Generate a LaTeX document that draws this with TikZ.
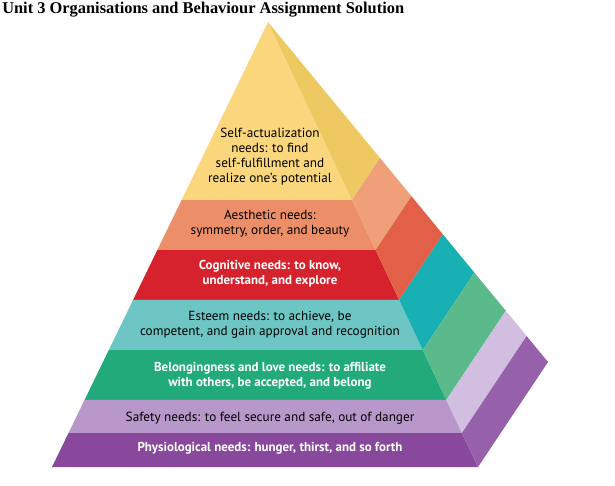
\documentclass[tikz,border=0pt]{standalone}
\usepackage{fontspec}
\setmainfont{PT Sans}
\newfontfamily\titlefont{Liberation Serif}
\usetikzlibrary{calc}

\definecolor{selfF}{RGB}{250,214,124}
\definecolor{selfS}{RGB}{238,200,96}
\definecolor{aesF}{RGB}{236,142,104}
\definecolor{aesS}{RGB}{240,160,120}
\definecolor{cogF}{RGB}{214,34,44}
\definecolor{cogS}{RGB}{226,96,72}
\definecolor{estF}{RGB}{110,198,196}
\definecolor{estS}{RGB}{24,176,178}
\definecolor{belF}{RGB}{34,170,122}
\definecolor{belS}{RGB}{90,186,140}
\definecolor{safF}{RGB}{184,152,202}
\definecolor{safS}{RGB}{210,190,224}
\definecolor{phyF}{RGB}{136,72,156}
\definecolor{phyS}{RGB}{150,96,170}

\tikzset{
  lbl/.style={inner sep=0.75pt, align=center, font=\fontsize{9.9}{11.3}\selectfont},
  lblw/.style={lbl, text=white, font=\bfseries\fontsize{9.7}{11.3}\selectfont}
}

\begin{document}
\begin{tikzpicture}[x=0.75pt,y=0.75pt,yscale=-1,xscale=1]
\useasboundingbox (0,0) rectangle (615,486);

% corners of the pyramid
\coordinate (apex) at (268,22);
\coordinate (bl) at (52,467);
\coordinate (br) at (478,467);
\coordinate (bc) at (548,362);

% bands: front face and side face
\foreach \ta/\tb/\cf/\cs in {0/0.4/selfF/selfS, 0.4/0.5124/aesF/aesS, 0.5124/0.6247/cogF/cogS, 0.6247/0.7371/estF/estS, 0.7371/0.8494/belF/belS, 0.8494/0.9236/safF/safS, 0.9236/1/phyF/phyS}{
  \fill[\cf] ($(apex)!\ta!(bl)$) -- ($(apex)!\tb!(bl)$) -- ($(apex)!\tb!(br)$) -- ($(apex)!\ta!(br)$) -- cycle;
  \fill[\cs] ($(apex)!\ta!(br)$) -- ($(apex)!\tb!(br)$) -- ($(apex)!\tb!(bc)$) -- ($(apex)!\ta!(bc)$) -- cycle;
}

% Title
\node[anchor=north west, inner sep=0pt, font=\titlefont\bfseries\fontsize{12.3}{14}\selectfont] (title) at (2,2) {Unit 3 Organisations and Behaviour Assignment Solution};

% Text Nodes
\node[lbl] (self) at (270,157) {Self-actualization\\needs: to find\\self-fulfillment and\\realize one’s potential};
\node[lbl] (aes) at (270,224) {Aesthetic needs:\\symmetry, order, and beauty};
\node[lblw] (cog) at (270,274) {Cognitive needs: to know,\\understand, and explore};
\node[lbl] (est) at (270,325) {Esteem needs: to achieve, be\\competent, and gain approval and recognition};
\node[lblw] (bel) at (270,376) {Belongingness and love needs: to affiliate\\with others, be accepted, and belong};
\node[lbl] (saf) at (270,418) {Safety needs: to feel secure and safe, out of danger};
\node[lblw] (phy) at (270,448) {Physiological needs: hunger, thirst, and so forth};
\end{tikzpicture}
\end{document}
